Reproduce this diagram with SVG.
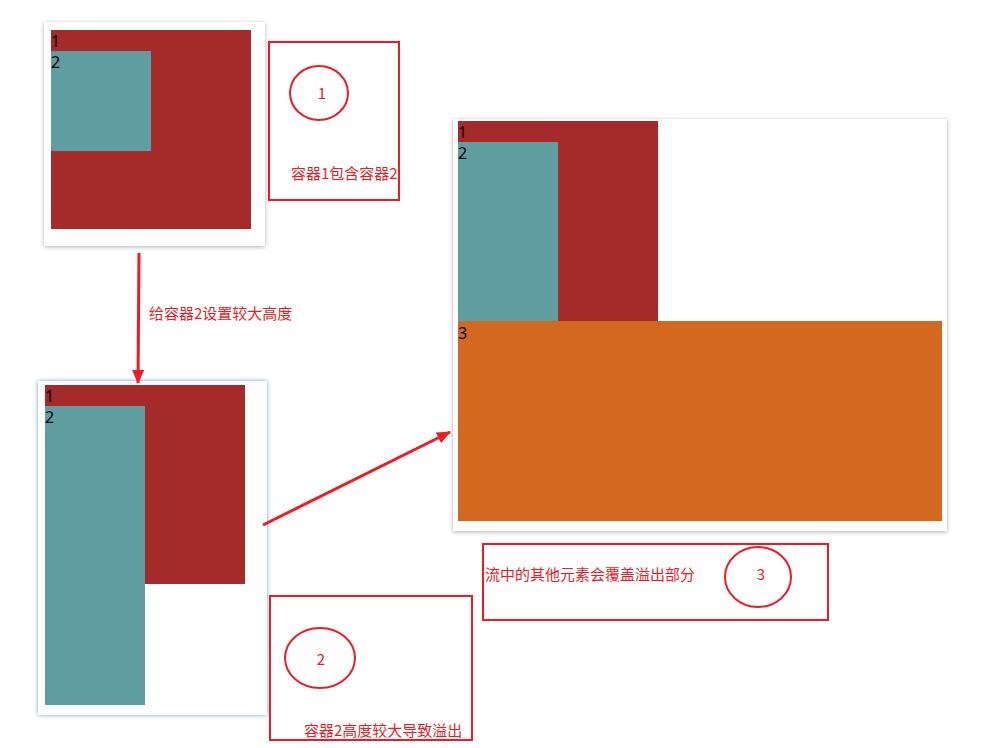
<svg xmlns="http://www.w3.org/2000/svg" width="991" height="748" viewBox="0 0 991 748">
<defs>
<filter id="sh" x="-10%" y="-10%" width="120%" height="120%"><feDropShadow dx="0" dy="1" stdDeviation="2" flood-color="#000" flood-opacity="0.3"/></filter>
<filter id="glow" x="-10%" y="-10%" width="120%" height="120%"><feDropShadow dx="0" dy="0" stdDeviation="2" flood-color="#5a9ff0" flood-opacity="1"/></filter>
<marker id="ah" markerUnits="userSpaceOnUse" markerWidth="14" markerHeight="12" refX="13" refY="6" orient="auto"><path d="M0,0 L14,6 L0,12 Z" fill="#ed1c24"/></marker>
<style>
.panel{fill:#fff}
.c1{fill:#a52a2a}
.c2{fill:#5f9ea0}
.c3{fill:#d2691e}
.num{font-family:"Noto Sans","Noto Sans CJK SC",sans-serif;font-size:16px;fill:#000}
.box{fill:none;stroke:#ed1c24;stroke-width:2}
.lbl{font-family:"Noto Sans CJK SC","Noto Sans",sans-serif;font-size:15px;fill:#ed1c24}
.conn{stroke:#ed1c24;stroke-width:3;fill:none}
</style>
</defs>
<rect width="991" height="748" fill="#fff"/>

<g id="panel1">
<rect class="panel" x="44" y="22" width="221" height="224" filter="url(#sh)"/>
<rect class="c1" x="51" y="30" width="200" height="199"/>
<rect class="c2" x="51" y="51" width="100" height="100"/>
<text class="num" x="51" y="47">1</text>
<text class="num" x="51" y="68">2</text>
</g>

<g id="note1">
<rect class="box" x="269" y="42" width="130" height="158"/>
<ellipse class="box" cx="319" cy="93" rx="29" ry="27"/>
<text class="lbl" x="322" y="99" text-anchor="middle">1</text>
<text class="lbl" x="291" y="179">容器1包含容器2</text>
</g>

<g id="panel2">
<rect class="panel" x="38" y="381" width="229" height="334" filter="url(#glow)"/>
<rect class="c1" x="45" y="385" width="200" height="199"/>
<rect class="c2" x="45" y="406" width="100" height="299"/>
<text class="num" x="45" y="402">1</text>
<text class="num" x="45" y="423">2</text>
</g>

<g id="note2">
<rect class="box" x="270" y="596" width="202" height="144"/>
<ellipse class="box" cx="320" cy="658" rx="35" ry="30"/>
<text class="lbl" x="321" y="665" text-anchor="middle">2</text>
<text class="lbl" x="304" y="736">容器2高度较大导致溢出</text>
</g>

<g id="panel3">
<rect class="panel" x="453" y="119" width="494" height="412" filter="url(#sh)"/>
<rect class="c1" x="458" y="121" width="200" height="200"/>
<rect class="c2" x="458" y="142" width="100" height="179"/>
<rect class="c3" x="458" y="321" width="484" height="200"/>
<text class="num" x="458" y="138">1</text>
<text class="num" x="458" y="159">2</text>
<text class="num" x="458" y="339">3</text>
</g>

<g id="note3">
<rect class="box" x="483" y="544" width="345" height="76"/>
<ellipse class="box" cx="758" cy="577" rx="33" ry="30"/>
<text class="lbl" x="761" y="580" text-anchor="middle">3</text>
<text class="lbl" x="485" y="580">流中的其他元素会覆盖溢出部分</text>
</g>

<g id="connectors">
<line class="conn" x1="139" y1="253" x2="138" y2="383" marker-end="url(#ah)"/>
<text class="lbl" x="149" y="319">给容器2设置较大高度</text>
<line class="conn" x1="263" y1="525" x2="450" y2="432" marker-end="url(#ah)"/>
</g>
</svg>
